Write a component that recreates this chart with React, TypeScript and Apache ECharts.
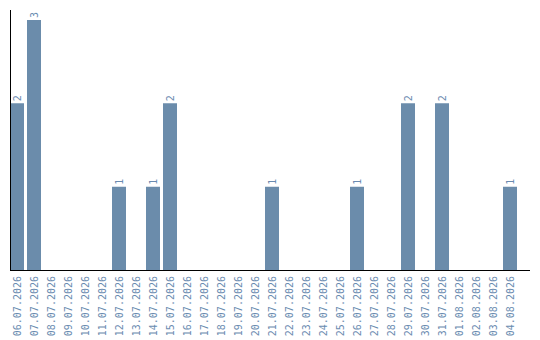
import React, { useEffect, useRef } from "react";
import * as echarts from "echarts";

const dates = [
  "06.07.2026", "07.07.2026", "08.07.2026", "09.07.2026", "10.07.2026",
  "11.07.2026", "12.07.2026", "13.07.2026", "14.07.2026", "15.07.2026",
  "16.07.2026", "17.07.2026", "18.07.2026", "19.07.2026", "20.07.2026",
  "21.07.2026", "22.07.2026", "23.07.2026", "24.07.2026", "25.07.2026",
  "26.07.2026", "27.07.2026", "28.07.2026", "29.07.2026", "30.07.2026",
  "31.07.2026", "01.08.2026", "02.08.2026", "03.08.2026", "04.08.2026",
];

const counts = [
  2, 3, 0, 0, 0,
  0, 1, 0, 1, 2,
  0, 0, 0, 0, 0,
  1, 0, 0, 0, 0,
  1, 0, 0, 2, 0,
  2, 0, 0, 0, 1,
];

const BAR = "#6b8cab";
const TEXT = "#6a8bb0";
const FONT = "DejaVu Sans Mono";

export default function App() {
  const ref = useRef<HTMLDivElement>(null);

  useEffect(() => {
    document.body.style.margin = "0";
    if (!ref.current) return;
    const chart = echarts.init(ref.current, null, { renderer: "svg" });
    chart.setOption({
      animation: false,
      grid: { left: 8.5, top: 10, width: 510, height: 260, containLabel: false },
      xAxis: {
        type: "category",
        data: dates,
        axisLine: { show: false },
        axisTick: { show: false },
        axisLabel: {
          rotate: 90,
          interval: 0,
          color: TEXT,
          fontFamily: FONT,
          fontSize: 10,
          margin: 6,
        },
      },
      yAxis: {
        type: "value",
        min: 0,
        max: 3.12,
        axisLine: { show: false },
        axisTick: { show: false },
        axisLabel: { show: false },
        splitLine: { show: false },
      },
      graphic: [
        {
          type: "line",
          shape: { x1: 10.5, y1: 10, x2: 10.5, y2: 270 },
          style: { stroke: "#000", lineWidth: 1 },
          z: 10,
        },
        {
          type: "line",
          shape: { x1: 10, y1: 270.5, x2: 530, y2: 270.5 },
          style: { stroke: "#000", lineWidth: 1 },
          z: 10,
        },
      ],
      series: [
        {
          type: "bar",
          data: counts.map((v) => (v > 0 ? v : null)),
          barWidth: 14,
          itemStyle: { color: BAR },
          label: {
            show: true,
            position: "top",
            rotate: 90,
            align: "left",
            verticalAlign: "middle",
            distance: 2,
            color: TEXT,
            fontFamily: FONT,
            fontSize: 10,
          },
        },
      ],
    });
    return () => chart.dispose();
  }, []);

  return <div ref={ref} style={{ width: 540, height: 340 }} />;
}
